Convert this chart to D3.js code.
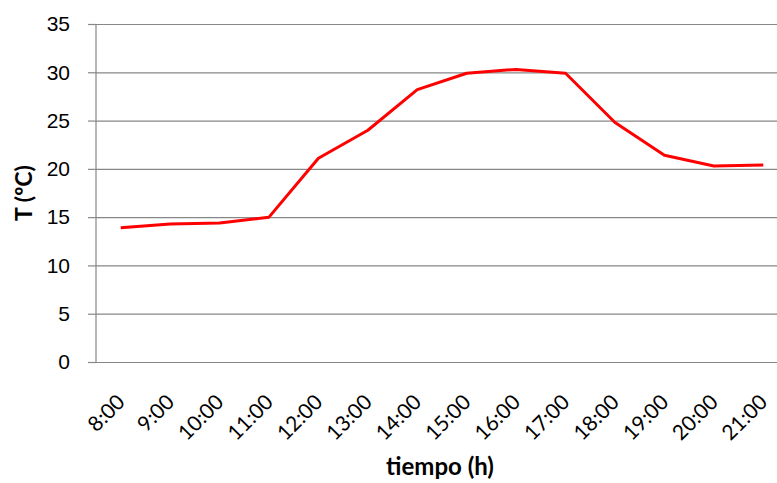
<!DOCTYPE html>
<html>
<head>
<meta charset="utf-8">
<script src="https://cdn.jsdelivr.net/npm/d3@7"></script>
<style>
  body { margin: 0; background: #fff; }
  svg { display: block; font-family: Lato, "Open Sans", sans-serif; }
</style>
</head>
<body>
<div id="chart"></div>
<script>
const hours = ["8:00", "9:00", "10:00", "11:00", "12:00", "13:00", "14:00",
               "15:00", "16:00", "17:00", "18:00", "19:00", "20:00", "21:00"];
const temps = [13.9, 14.3, 14.4, 15.0, 21.1, 24.0, 28.2,
               29.9, 30.3, 29.9, 24.8, 21.4, 20.3, 20.4];
const yTicks = [0, 5, 10, 15, 20, 25, 30, 35];

var width = 777;
var height = 483;
var margin = ({top: 24, right: -11, bottom: 121, left: 96});

var svg = d3.select("#chart")
    .append("svg")
        .attr("viewBox", [0, 0, width, height])
        .attr("width", width)
        .attr("height", height);

var x = d3.scaleBand()
    .domain(hours)
    .range([margin.left, width - margin.right]);

var y = d3.scaleLinear()
    .domain([0, 35])
    .range([height - margin.bottom, margin.top]);

// horizontal gridlines + y axis
svg.append("g")
    .attr("transform", `translate(${margin.left},0)`)
    .call(d3.axisLeft(y).tickValues(yTicks).tickSize(8).tickPadding(18))
    .call(g => g.select(".domain").remove())
    .call(g => g.selectAll(".tick line").clone()
        .attr("x2", width - margin.left)
        .attr("x1", 0))
    .call(g => g.selectAll(".tick line")
        .attr("stroke", "#878787")
        .attr("stroke-width", 1.2))
    .call(g => g.selectAll(".tick text")
        .attr("font-size", 21)
        .attr("fill", "#000"));

// vertical axis line
svg.append("line")
    .attr("x1", margin.left).attr("x2", margin.left)
    .attr("y1", y(35)).attr("y2", y(0))
    .attr("stroke", "#878787")
    .attr("stroke-width", 1.2);

// x labels, rotated
svg.append("g")
    .selectAll("text")
    .data(hours)
    .join("text")
        .attr("transform", d => `translate(${x(d) + x.bandwidth() / 2 - 5},${y(0) + 31}) rotate(-45)`)
        .attr("text-anchor", "end")
        .attr("dy", "0.7em")
        .attr("font-size", 21)
        .text(d => d);

var line = d3.line()
    .x((d, i) => x(hours[i]) + x.bandwidth() / 2)
    .y(d => y(d));

svg.append("path")
    .datum(temps)
    .attr("fill", "none")
    .attr("stroke", "#ff0000")
    .attr("stroke-width", 3)
    .attr("stroke-linejoin", "round")
    .attr("d", line);

svg.append("text")
    .attr("x", 440)
    .attr("y", 475)
    .attr("text-anchor", "middle")
    .attr("font-size", 24)
    .attr("font-weight", "bold")
    .text("tiempo (h)");

svg.append("text")
    .attr("transform", "translate(32,193) rotate(-90)")
    .attr("text-anchor", "middle")
    .attr("font-size", 23)
    .attr("font-weight", "bold")
    .text("T (ºC)");
</script>
</body>
</html>
